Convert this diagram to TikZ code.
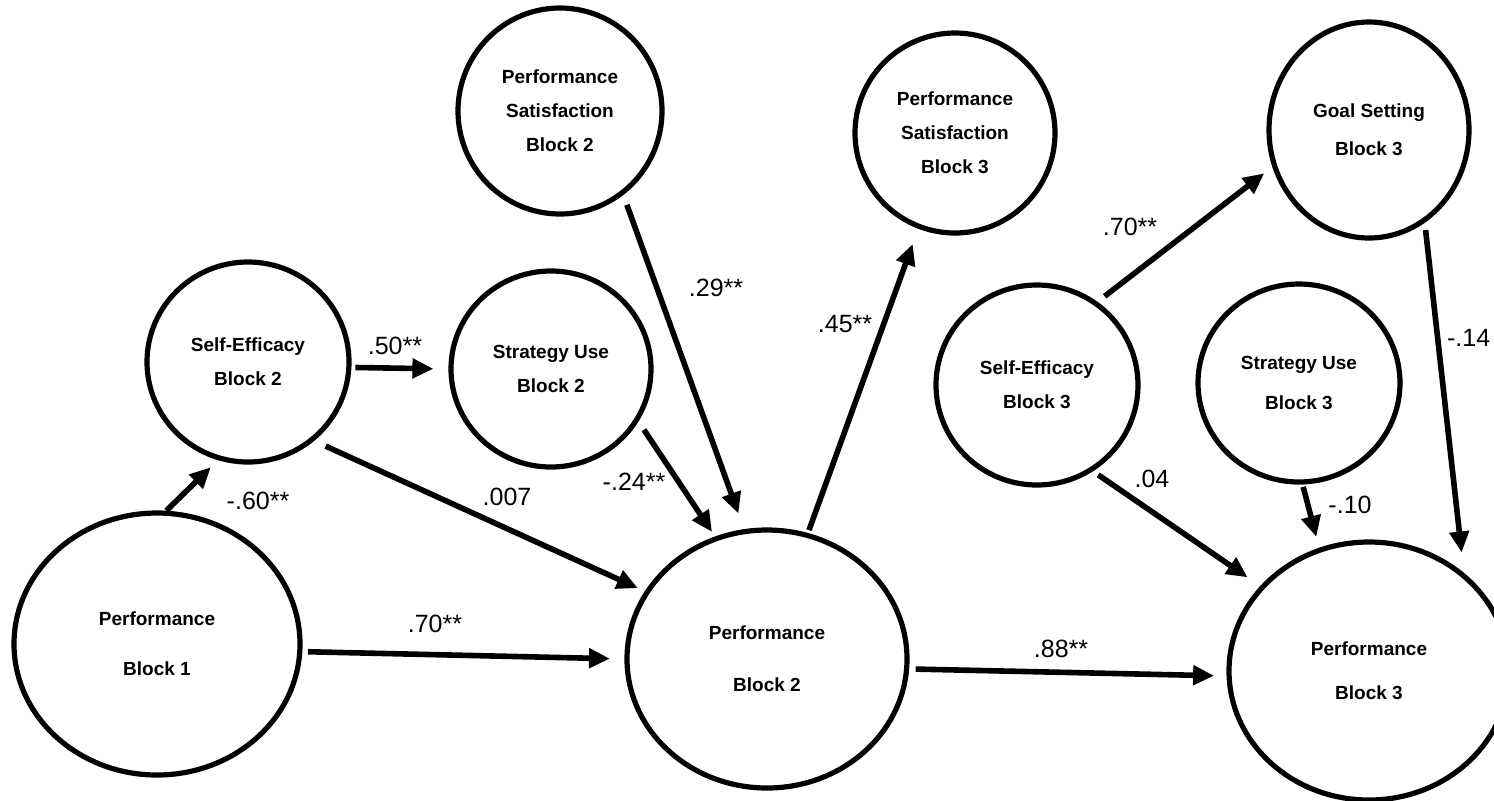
\documentclass[tikz,border=0pt]{standalone}
\usepackage{fontspec}
\setmainfont{Liberation Sans}
\usetikzlibrary{arrows.meta, shapes.geometric}

\begin{document}
\begin{tikzpicture}[
      x=0.5pt, y=-0.5pt,
      bub/.style={ellipse, draw, line width=2.6pt, inner sep=0pt, align=center,
                  font=\fontsize{9.5}{17}\selectfont\bfseries},
      lbl/.style={font=\fontsize{12.5}{14}\selectfont},
      >={Triangle[length=10.5pt, width=9.5pt]}, line width=2.8pt]
    \clip (0,0) rectangle (1494,800);
    \node[bub, minimum width=143pt, minimum height=131pt] (perfA) at (157,644) {Performance\\[8pt]Block 1};
    \node[bub, minimum width=101pt, minimum height=100pt] (seB)   at (248,362) {Self-Efficacy\\Block 2};
    \node[bub, minimum width=100pt, minimum height=98pt]  (suB)   at (551,369) {Strategy Use\\Block 2};
    \node[bub, minimum width=102pt, minimum height=103pt] (psB)   at (560,111) {Performance\\Satisfaction\\Block 2};
    \node[bub, minimum width=140pt, minimum height=129pt] (perfB) at (767,659) {Performance\\[9pt]Block 2};
    \node[bub, minimum width=100pt, minimum height=100pt] (psC)   at (955,133) {Performance\\Satisfaction\\Block 3};
    \node[bub, minimum width=101pt, minimum height=100pt] (seC)   at (1037,385) {Self-Efficacy\\Block 3};
    \node[bub, minimum width=100pt, minimum height=108pt] (gsC)   at (1369,130) {Goal Setting\\[2pt]Block 3};
    \node[bub, minimum width=101pt, minimum height=99pt]  (suC)   at (1299,383) {Strategy Use\\[3pt]Block 3};
    \node[bub, minimum width=140pt, minimum height=129pt] (perfC) at (1369,671) {Performance\\[5pt]Block 3};
    \draw[->, shorten >=5pt] (perfA.86) -- (seB.253);
    \draw[->, shorten <=2pt, shorten >=7.5pt] (seB.357) -- (suB.180);
    \draw[->, shorten <=6.3pt, shorten >=3.8pt] (seB.310) -- (perfB.151);
    \draw[->, shorten <=2.8pt, shorten >=7.2pt] (perfA.357) -- (perfB.180);
    \draw[->, shorten <=4.9pt, shorten >=2.7pt] (suB.329) -- (perfB.113);
    \draw[->, shorten <=5.2pt, shorten >=8.3pt] (psB.307) -- (perfB.100);
    \draw[->, shorten <=1.5pt, shorten >=8.1pt] (perfB.72) -- (psC.249);
    \draw[->, shorten <=3.2pt, shorten >=6.2pt] (perfB.356) -- (perfC.182);
    \draw[->, shorten <=4.5pt, shorten >=5.1pt] (seC.54) -- (gsC.201);
    \draw[->, shorten <=3.1pt, shorten >=7.6pt] (seC.303) -- (perfC.142);
    \draw[->, shorten <=1.2pt, shorten >=5.6pt] (suC.272) -- (perfC.112);
    \draw[->, shorten <=3.6pt, shorten >=10.2pt] (gsC.301) -- (perfC.46);
    \node[lbl] (w1)  at (258,501)  {-.60**};
    \node[lbl] (w2)  at (395,346)  {.50**};
    \node[lbl] (w3)  at (507,497)  {.007};
    \node[lbl] (w4)  at (435,624)  {.70**};
    \node[lbl] (w5)  at (634,482)  {-.24**};
    \node[lbl] (w6)  at (716,288)  {.29**};
    \node[lbl] (w7)  at (845,324)  {.45**};
    \node[lbl] (w8)  at (1061,649) {.88**};
    \node[lbl] (w9)  at (1130,227) {.70**};
    \node[lbl] (w10) at (1152,479) {.04};
    \node[lbl] (w11) at (1350,505) {-.10};
    \node[lbl, anchor=east, inner sep=0pt] (w12) at (1493,338) {-.14};
  \end{tikzpicture}
\end{document}
